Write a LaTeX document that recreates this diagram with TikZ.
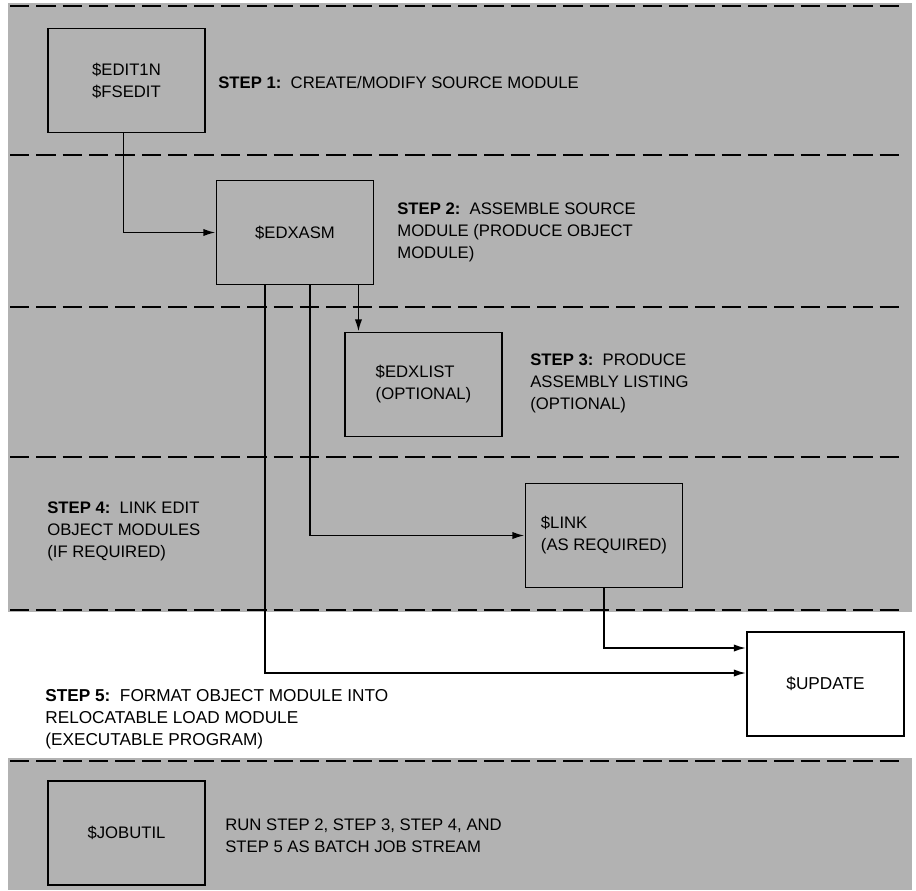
\documentclass[tikz,border=0pt]{standalone}
\usepackage{fontspec}
\setmainfont{Liberation Sans}
\usetikzlibrary{positioning,arrows.meta,calc}
\definecolor{ScreenGray}{HTML}{B2B2B2}

\begin{document}
\begin{tikzpicture}[
  x=0.02cm, y=-0.02cm,
  font=\fontsize{9.5}{12.5}\selectfont,
  prog/.style={draw=black, line width=1.1pt, minimum width=3.14cm, minimum height=2.08cm, inner sep=0pt, align=left},
  note/.style={anchor=west, align=left, inner sep=0pt},
  band/.style={fill=ScreenGray, draw=none},
  divider/.style={line width=1.3pt, dash pattern=on 11pt off 4pt},
  arrow/.style={-{Latex[length=7pt,width=4.2pt]}, line width=1pt}
]
\useasboundingbox (0,0) rectangle (916,890);

% shaded bands and step dividers
\fill[band] (8,3) rectangle (912,612);
\fill[band] (8,758) rectangle (912,890);
\foreach \y in {6,155,307,457,610,761}
  \draw[divider] (10,\y) -- (905,\y);

% programs
\node[prog] (edit) at (126.5,80.5) {\$EDIT1N\\\$FSEDIT};
\node[prog] (asm) at (295,232.5) {\$EDXASM};
\node[prog] (list) at (423.5,384.5) {\$EDXLIST\\(OPTIONAL)};
\node[prog] (link) at (604,535.5) {\$LINK\\(AS REQUIRED)};
\node[prog, fill=white, font=\fontsize{9.8}{12.5}\selectfont] (update) at (825.5,684) {\$UPDATE};
\node[prog] (jobutil) at (126.5,833) {\$JOBUTIL};

% step notes
\node[note] (step1) at (218,83) {\textbf{STEP 1:}\ \ CREATE/MODIFY SOURCE MODULE};
\node[note] (step2) at (397,232) {\textbf{STEP 2:}\ \ ASSEMBLE SOURCE\\MODULE (PRODUCE OBJECT\\MODULE)};
\node[note] (step3) at (530,383) {\textbf{STEP 3:}\ \ PRODUCE\\ASSEMBLY LISTING\\(OPTIONAL)};
\node[note] (step4) at (47,531) {\textbf{STEP 4:}\ \ LINK EDIT\\OBJECT MODULES\\(IF REQUIRED)};
\node[note, font=\fontsize{9.8}{12.5}\selectfont] (step5) at (45,719) {\textbf{STEP 5:}\ \ FORMAT OBJECT MODULE INTO\\RELOCATABLE LOAD MODULE\\(EXECUTABLE PROGRAM)};
\node[note] (batch) at (225,836) {RUN STEP 2, STEP 3, STEP 4, AND\\STEP 5 AS BATCH JOB STREAM};

% taps under $EDXASM
\coordinate (tapU) at ($(asm.south)+(-30,0)$);
\coordinate (tapL) at ($(asm.south)+(15,0)$);
\coordinate (tapC) at ($(asm.south east)+(-16,0)$);

% flow
\draw[arrow] ($(edit.south)+(-3,0)$) |- (asm.west);
\draw[arrow] (tapC) -- (tapC |- list.north);
\draw[arrow] (tapL) |- (link.west);
\draw[arrow] (link.south) |- ($(update.west)+(0,-36)$);
\draw[arrow] (tapU) |- ($(update.west)+(0,-11)$);
\end{tikzpicture}
\end{document}
